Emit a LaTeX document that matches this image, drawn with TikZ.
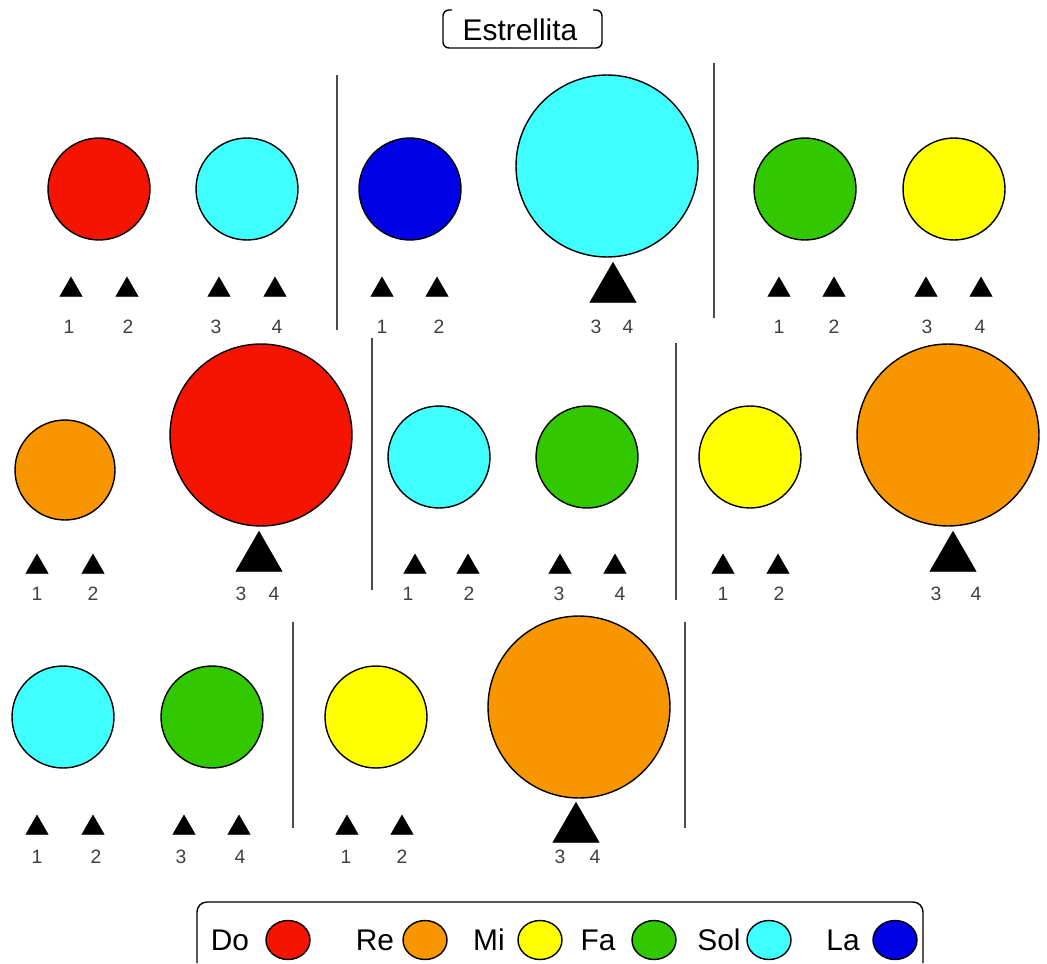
\documentclass[tikz,border=0pt]{standalone}
\usepackage{fontspec}
\setmainfont{Liberation Sans}
\usetikzlibrary{shapes.geometric}
\definecolor{doRed}{RGB}{245,20,0}
\definecolor{reOrange}{RGB}{248,150,0}
\definecolor{miYellow}{RGB}{255,255,0}
\definecolor{faGreen}{RGB}{50,200,0}
\definecolor{solCyan}{RGB}{64,255,255}
\definecolor{laBlue}{RGB}{0,0,230}
\tikzstyle{note} = [circle, draw, line width=0.8pt, inner sep=0pt, minimum size=2.04cm]
\tikzstyle{bignote} = [note, minimum size=3.64cm]
\tikzstyle{beat} = [regular polygon, regular polygon sides=3, draw, fill=black, inner sep=0pt, minimum size=0.51cm]
\tikzstyle{bigbeat} = [beat, minimum size=1.06cm]
\tikzstyle{num} = [text=black!75, font=\fontsize{11}{13}\selectfont]
\tikzstyle{bar} = [draw=black!70, line width=0.7pt]
\tikzstyle{legnote} = [ellipse, draw, line width=0.8pt, inner sep=0pt, minimum width=0.88cm, minimum height=0.78cm]
\tikzstyle{legtext} = [font=\fontsize{17}{20}\selectfont]
\begin{document}
\begin{tikzpicture}[x=0.02cm, y=-0.02cm]
  \useasboundingbox (0,0) rectangle (1047,963);

  % titulo
  \node[font=\fontsize{17}{20}\selectfont] (title) at (520,30) {Estrellita};
  \draw[line width=0.8pt, rounded corners=0.12cm] (452,10) -- (443,10) -- (443,48) -- (602,48) -- (602,10) -- (593,10);

  % primera fila
  \node[note, fill=doRed] (n11) at (99,189) {};
  \node[note, fill=solCyan] (n12) at (247,189) {};
  \node[note, fill=laBlue] (n13) at (410,189) {};
  \node[bignote, fill=solCyan] (n14) at (607,166) {};
  \node[note, fill=faGreen] (n15) at (805,189) {};
  \node[note, fill=miYellow] (n16) at (954,189) {};

  \node[beat] (b11) at (71,290) {};
  \node[beat] (b12) at (127,290) {};
  \node[beat] (b13) at (219,290) {};
  \node[beat] (b14) at (275,290) {};
  \node[beat] (b15) at (382,290) {};
  \node[beat] (b16) at (437,290) {};
  \node[bigbeat] (b17) at (613,289) {};
  \node[beat] (b18) at (779,290) {};
  \node[beat] (b19) at (834,290) {};
  \node[beat] (b110) at (926,290) {};
  \node[beat] (b111) at (981,290) {};

  \node[num] (t11) at (69,327) {1};
  \node[num] (t12) at (128,327) {2};
  \node[num] (t13) at (216,327) {3};
  \node[num] (t14) at (277,327) {4};
  \node[num] (t15) at (382,327) {1};
  \node[num] (t16) at (439,327) {2};
  \node[num] (t17) at (596,327) {3};
  \node[num] (t18) at (628,327) {4};
  \node[num] (t19) at (779,327) {1};
  \node[num] (t110) at (834,327) {2};
  \node[num] (t111) at (927,327) {3};
  \node[num] (t112) at (980,327) {4};

  \draw[bar] (337,75) -- (337,330);
  \draw[bar] (714,63) -- (714,318);

  % segunda fila
  \node[note, fill=reOrange, minimum size=2cm] (n21) at (65,470) {};
  \node[bignote, fill=doRed] (n22) at (261,435) {};
  \node[note, fill=solCyan] (n23) at (439,457) {};
  \node[note, fill=faGreen] (n24) at (587,457) {};
  \node[note, fill=miYellow] (n25) at (750,457) {};
  \node[bignote, fill=reOrange] (n26) at (948,435) {};

  \node[beat] (b21) at (37,567) {};
  \node[beat] (b22) at (93,567) {};
  \node[bigbeat] (b23) at (259,558) {};
  \node[beat] (b24) at (415,567) {};
  \node[beat] (b25) at (468,567) {};
  \node[beat] (b26) at (560,567) {};
  \node[beat] (b27) at (615,567) {};
  \node[beat] (b28) at (723,567) {};
  \node[beat] (b29) at (778,567) {};
  \node[bigbeat] (b210) at (953,558) {};

  \node[num] (t21) at (37,594) {1};
  \node[num] (t22) at (93,594) {2};
  \node[num] (t23) at (241,594) {3};
  \node[num] (t24) at (274,594) {4};
  \node[num] (t25) at (408,594) {1};
  \node[num] (t26) at (469,594) {2};
  \node[num] (t27) at (559,594) {3};
  \node[num] (t28) at (620,594) {4};
  \node[num] (t29) at (723,594) {1};
  \node[num] (t210) at (779,594) {2};
  \node[num] (t211) at (936,594) {3};
  \node[num] (t212) at (976,594) {4};

  \draw[bar] (372,338) -- (372,590);
  \draw[bar] (676,343) -- (676,600);

  % tercera fila
  \node[note, fill=solCyan] (n31) at (63,717) {};
  \node[note, fill=faGreen] (n32) at (212,717) {};
  \node[note, fill=miYellow] (n33) at (376,717) {};
  \node[bignote, fill=reOrange] (n34) at (579,707) {};

  \node[beat] (b31) at (37,828) {};
  \node[beat] (b32) at (93,828) {};
  \node[beat] (b33) at (184,828) {};
  \node[beat] (b34) at (239,828) {};
  \node[beat] (b35) at (347,828) {};
  \node[beat] (b36) at (402,828) {};
  \node[bigbeat] (b37) at (576,829) {};

  \node[num] (t31) at (37,857) {1};
  \node[num] (t32) at (96,857) {2};
  \node[num] (t33) at (181,857) {3};
  \node[num] (t34) at (240,857) {4};
  \node[num] (t35) at (346,857) {1};
  \node[num] (t36) at (402,857) {2};
  \node[num] (t37) at (560,857) {3};
  \node[num] (t38) at (595,857) {4};

  \draw[bar] (293,622) -- (293,828);
  \draw[bar] (685,622) -- (685,828);

  % leyenda
  \draw[line width=0.8pt, rounded corners=0.2cm] (197,963) -- (197,902) -- (923,902) -- (923,963);
  \node[legtext] (lDo) at (230,940) {Do};
  \node[legnote, fill=doRed] (eDo) at (288,940) {};
  \node[legtext] (lRe) at (375,940) {Re};
  \node[legnote, fill=reOrange] (eRe) at (425,940) {};
  \node[legtext] (lMi) at (489,940) {Mi};
  \node[legnote, fill=miYellow] (eMi) at (540,940) {};
  \node[legtext] (lFa) at (598,940) {Fa};
  \node[legnote, fill=faGreen] (eFa) at (654,940) {};
  \node[legtext] (lSol) at (719,940) {Sol};
  \node[legnote, fill=solCyan] (eSol) at (769,940) {};
  \node[legtext] (lLa) at (843,940) {La};
  \node[legnote, fill=laBlue] (eLa) at (895,940) {};
\end{tikzpicture}
\end{document}
